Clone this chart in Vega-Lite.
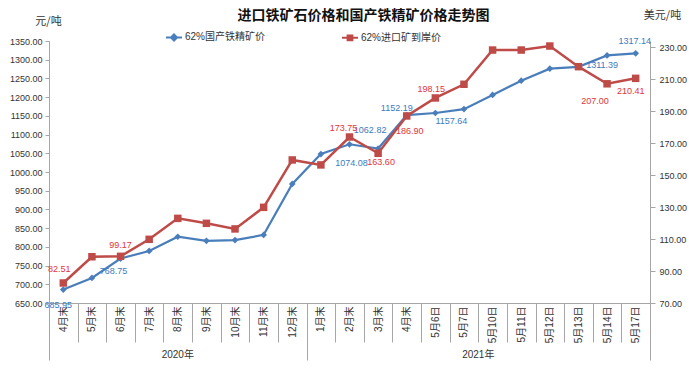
{
  "$schema": "https://vega.github.io/schema/vega-lite/v6.json",
  "width": 601,
  "height": 262,
  "autosize": "none",
  "padding": {"left": 49, "top": 41, "right": 48, "bottom": 67},
  "background": "white",
  "config": {
    "font": "Liberation Sans, Noto Sans CJK SC",
    "view": {"stroke": null}
  },
  "title": {
    "text": "进口铁矿石价格和国产铁精矿价格走势图",
    "font": "Noto Sans CJK SC",
    "fontSize": 14,
    "fontWeight": "bold",
    "color": "#111111",
    "anchor": "middle",
    "frame": "group",
    "dx": 14,
    "offset": -14
  },
  "data": {
    "values": [
      {"k": "2020|4月末", "yr": "2020年", "cn": 685.95, "im": 82.51},
      {"k": "2020|5月末", "yr": "2020年", "cn": 717, "im": 98.9},
      {"k": "2020|6月末", "yr": "2020年", "cn": 768.75, "im": 99.17},
      {"k": "2020|7月末", "yr": "2020年", "cn": 789, "im": 109.8},
      {"k": "2020|8月末", "yr": "2020年", "cn": 827, "im": 122.9},
      {"k": "2020|9月末", "yr": "2020年", "cn": 816, "im": 119.8},
      {"k": "2020|10月末", "yr": "2020年", "cn": 818, "im": 116.3},
      {"k": "2020|11月末", "yr": "2020年", "cn": 832, "im": 129.8},
      {"k": "2020|12月末", "yr": "2020年", "cn": 968, "im": 159.4},
      {"k": "2021|1月末", "yr": "2021年", "cn": 1048, "im": 156.3},
      {"k": "2021|2月末", "yr": "2021年", "cn": 1074.08, "im": 173.75},
      {"k": "2021|3月末", "yr": "2021年", "cn": 1062.82, "im": 163.6},
      {"k": "2021|4月末", "yr": "2021年", "cn": 1152.19, "im": 186.9},
      {"k": "2021|5月6日", "yr": "2021年", "cn": 1157.64, "im": 198.15},
      {"k": "2021|5月7日", "yr": "2021年", "cn": 1168, "im": 206.7},
      {"k": "2021|5月10日", "yr": "2021年", "cn": 1206, "im": 228.1},
      {"k": "2021|5月11日", "yr": "2021年", "cn": 1244, "im": 228.1},
      {"k": "2021|5月12日", "yr": "2021年", "cn": 1276, "im": 230.6},
      {"k": "2021|5月13日", "yr": "2021年", "cn": 1281, "im": 217.7},
      {"k": "2021|5月14日", "yr": "2021年", "cn": 1311.39, "im": 207.0},
      {"k": "2021|5月17日", "yr": "2021年", "cn": 1317.14, "im": 210.41}
    ]
  },
  "encoding": {
    "x": {
      "field": "k",
      "type": "nominal",
      "sort": null,
      "bandPosition": 0.5,
      "scale": {"type": "band", "paddingInner": 0, "paddingOuter": 0},
      "axis": {
        "title": null,
        "labelExpr": "datum.extra ? '' : split(datum.value, '|')[1]",
        "labelAngle": -90,
        "labelFontSize": 10,
        "labelColor": "#333333",
        "labelFont": "Liberation Sans, Noto Sans CJK SC",
        "tickBand": "extent",
        "tickSize": {"condition": {"test": "datum.extra || datum.value == '2020|12月末' || datum.value == '2021|5月17日'", "value": 57}, "value": 39},
        "labelPadding": {"condition": {"test": "datum.extra || datum.value == '2020|12月末' || datum.value == '2021|5月17日'", "value": -54}, "value": -36},
        "tickColor": "#a6a6a6",
        "domainColor": "#a6a6a6",
        "grid": false
      }
    }
  },
  "layer": [
    {
      "encoding": {
        "y": {
          "field": "cn",
          "type": "quantitative",
          "scale": {"domain": [650, 1350], "nice": false, "zero": false},
          "axis": {
            "orient": "left",
            "values": [650, 700, 750, 800, 850, 900, 950, 1000, 1050, 1100, 1150, 1200, 1250, 1300, 1350],
            "format": ".2f",
            "labelFontSize": 9,
            "labelColor": "#333333",
            "tickSize": 4,
            "labelPadding": 3,
            "tickColor": "#a6a6a6",
            "domainColor": "#a6a6a6",
            "grid": false,
            "title": "元/吨",
            "titleFont": "Noto Sans CJK SC",
            "titleFontSize": 11,
            "titleFontWeight": "normal",
            "titleColor": "#333333",
            "titleAngle": 0,
            "titleAlign": "center",
            "titleBaseline": "middle",
            "titleX": -1,
            "titleY": -20
          }
        }
      },
      "layer": [
        {
          "mark": {"type": "line", "strokeWidth": 2.2},
          "encoding": {
            "color": {
              "datum": "62%国产铁精矿价",
              "scale": {"domain": ["62%国产铁精矿价", "62%进口矿到岸价"], "range": ["#4a7ebb", "#be4b48"]},
              "legend": {
                "title": null,
                "orient": "none",
                "legendX": 116,
                "legendY": -13,
                "direction": "horizontal",
                "columns": 2,
                "columnPadding": 72,
                "symbolSize": 256,
                "labelOffset": 2,
                "labelFontSize": 10,
                "labelColor": "#333333",
                "labelFont": "Liberation Sans, Noto Sans CJK SC",
                "encode": {
                  "symbols": {
                    "update": {
                      "shape": {"signal": "datum.value === '62%国产铁精矿价' ? 'M-1,0H1M0,-0.38L0.38,0L0,0.38L-0.38,0Z' : 'M-1,0H1M-0.3,-0.3H0.3V0.3H-0.3Z'"},
                      "fill": {"signal": "datum.value === '62%国产铁精矿价' ? '#4a7ebb' : '#be4b48'"},
                      "stroke": {"signal": "datum.value === '62%国产铁精矿价' ? '#4a7ebb' : '#be4b48'"},
                      "strokeWidth": {"value": 2},
                      "opacity": {"value": 1}
                    }
                  }
                }
              }
            }
          }
        },
        {
          "mark": {"type": "point", "shape": "diamond", "filled": true, "size": 45, "opacity": 1, "color": "#4a7ebb"}
        },
        {"transform": [{"filter": "datum.k == '2020|4月末'"}], "mark": {"type": "text", "fontSize": 9, "color": "#3b7bbf", "dx": -5, "dy": 15}, "encoding": {"text": {"field": "cn", "format": ".2f"}}},
        {"transform": [{"filter": "datum.k == '2020|6月末'"}], "mark": {"type": "text", "fontSize": 9, "color": "#3b7bbf", "dx": -7, "dy": 12}, "encoding": {"text": {"field": "cn", "format": ".2f"}}},
        {"transform": [{"filter": "datum.k == '2021|2月末'"}], "mark": {"type": "text", "fontSize": 9, "color": "#3b7bbf", "dx": 2, "dy": 19}, "encoding": {"text": {"field": "cn", "format": ".2f"}}},
        {"transform": [{"filter": "datum.k == '2021|3月末'"}], "mark": {"type": "text", "fontSize": 9, "color": "#3b7bbf", "dx": -8, "dy": -18}, "encoding": {"text": {"field": "cn", "format": ".2f"}}},
        {"transform": [{"filter": "datum.k == '2021|4月末'"}], "mark": {"type": "text", "fontSize": 9, "color": "#3b7bbf", "dx": -10, "dy": -7}, "encoding": {"text": {"field": "cn", "format": ".2f"}}},
        {"transform": [{"filter": "datum.k == '2021|5月6日'"}], "mark": {"type": "text", "fontSize": 9, "color": "#3b7bbf", "dx": 16, "dy": 8}, "encoding": {"text": {"field": "cn", "format": ".2f"}}},
        {"transform": [{"filter": "datum.k == '2021|5月14日'"}], "mark": {"type": "text", "fontSize": 9, "color": "#3b7bbf", "dx": -5, "dy": 10}, "encoding": {"text": {"field": "cn", "format": ".2f"}}},
        {"transform": [{"filter": "datum.k == '2021|5月17日'"}], "mark": {"type": "text", "fontSize": 9, "color": "#3b7bbf", "dx": -1, "dy": -12}, "encoding": {"text": {"field": "cn", "format": ".2f"}}}
      ]
    },
    {
      "encoding": {
        "y": {
          "field": "im",
          "type": "quantitative",
          "scale": {"domain": [70, 233.75], "nice": false, "zero": false},
          "axis": {
            "orient": "right",
            "values": [70, 90, 110, 130, 150, 170, 190, 210, 230],
            "format": ".2f",
            "labelFontSize": 9,
            "labelColor": "#333333",
            "tickSize": 5,
            "labelPadding": 4,
            "tickColor": "#a6a6a6",
            "domainColor": "#a6a6a6",
            "grid": false,
            "title": "美元/吨",
            "titleFont": "Noto Sans CJK SC",
            "titleFontSize": 11,
            "titleFontWeight": "normal",
            "titleColor": "#333333",
            "titleAngle": 0,
            "titleAlign": "center",
            "titleBaseline": "middle",
            "titleX": 12,
            "titleY": -26
          }
        }
      },
      "layer": [
        {
          "mark": {"type": "line", "strokeWidth": 2.5},
          "encoding": {"color": {"datum": "62%进口矿到岸价"}}
        },
        {
          "mark": {"type": "point", "shape": "square", "filled": true, "size": 56, "opacity": 1, "color": "#be4b48"}
        },
        {"transform": [{"filter": "datum.k == '2020|4月末'"}], "mark": {"type": "text", "fontSize": 9, "color": "#e2343b", "dx": -4, "dy": -14}, "encoding": {"text": {"field": "im", "format": ".2f"}}},
        {"transform": [{"filter": "datum.k == '2020|6月末'"}], "mark": {"type": "text", "fontSize": 9, "color": "#e2343b", "dx": 0, "dy": -11}, "encoding": {"text": {"field": "im", "format": ".2f"}}},
        {"transform": [{"filter": "datum.k == '2021|2月末'"}], "mark": {"type": "text", "fontSize": 9, "color": "#e2343b", "dx": -6, "dy": -9}, "encoding": {"text": {"field": "im", "format": ".2f"}}},
        {"transform": [{"filter": "datum.k == '2021|3月末'"}], "mark": {"type": "text", "fontSize": 9, "color": "#e2343b", "dx": 3, "dy": 9}, "encoding": {"text": {"field": "im", "format": ".2f"}}},
        {"transform": [{"filter": "datum.k == '2021|4月末'"}], "mark": {"type": "text", "fontSize": 9, "color": "#e2343b", "dx": 3, "dy": 15}, "encoding": {"text": {"field": "im", "format": ".2f"}}},
        {"transform": [{"filter": "datum.k == '2021|5月6日'"}], "mark": {"type": "text", "fontSize": 9, "color": "#e2343b", "dx": -4, "dy": -9}, "encoding": {"text": {"field": "im", "format": ".2f"}}},
        {"transform": [{"filter": "datum.k == '2021|5月14日'"}], "mark": {"type": "text", "fontSize": 9, "color": "#e2343b", "dx": -12, "dy": 17}, "encoding": {"text": {"field": "im", "format": ".2f"}}},
        {"transform": [{"filter": "datum.k == '2021|5月17日'"}], "mark": {"type": "text", "fontSize": 9, "color": "#e2343b", "dx": -5, "dy": 13}, "encoding": {"text": {"field": "im", "format": ".2f"}}}
      ]
    },
    {
      "layer": [
        {
          "transform": [{"filter": "datum.k == '2020|8月末'"}],
          "mark": {"type": "text", "fontSize": 10, "color": "#333333", "dy": 52, "baseline": "middle"},
          "encoding": {"y": {"value": "height"}, "text": {"field": "yr"}}
        },
        {
          "transform": [{"filter": "datum.k == '2021|5月7日'"}],
          "mark": {"type": "text", "fontSize": 10, "color": "#333333", "dy": 52, "baseline": "middle"},
          "encoding": {
            "x": {"field": "k", "type": "nominal", "sort": null, "bandPosition": 1},
            "y": {"value": "height"},
            "text": {"field": "yr"}
          }
        }
      ]
    }
  ],
  "resolve": {"scale": {"y": "independent"}}
}
